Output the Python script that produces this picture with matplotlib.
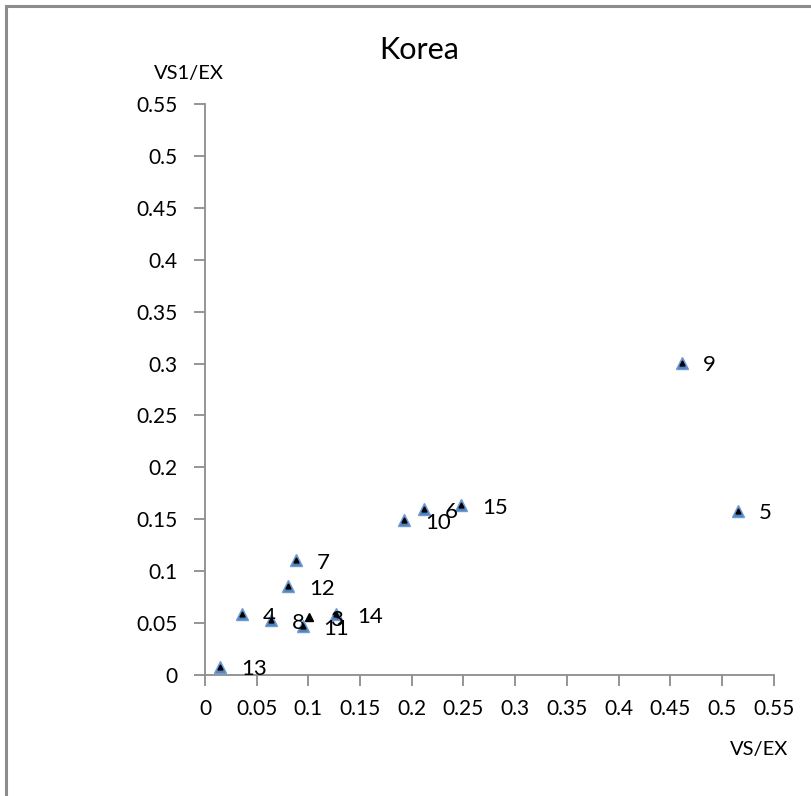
import matplotlib
matplotlib.use("Agg")
import matplotlib.pyplot as plt
from matplotlib.patches import Rectangle

# --- data ------------------------------------------------------------
labels = ["3", "4", "5", "6", "7", "8", "9", "10", "11", "12", "13", "14", "15"]
vs_ex = [0.101, 0.036, 0.515, 0.212, 0.088, 0.0635, 0.4615, 0.1925, 0.0945,
         0.0805, 0.0145, 0.127, 0.248]
vs1_ex = [0.056, 0.0588, 0.1583, 0.1596, 0.1108, 0.053, 0.3009, 0.1493, 0.047,
          0.0857, 0.008, 0.0588, 0.1638]
# point "3" is drawn only as a black marker in the original
plain_points = ["3"]

x_ticks = [0, 0.05, 0.1, 0.15, 0.2, 0.25, 0.3, 0.35, 0.4, 0.45, 0.5, 0.55]
y_ticks = x_ticks
tick_labels = ["0", "0.05", "0.1", "0.15", "0.2", "0.25", "0.3", "0.35",
               "0.4", "0.45", "0.5", "0.55"]

plt.rcParams["font.family"] = ["Lato", "DejaVu Sans"]

fig = plt.figure(figsize=(8.12, 7.96), dpi=100)
# outer chart border (only left/top are visible in the reference)
fig.patches.append(Rectangle((5.5 / 812, -0.1), 1.2, 1 - 5.5 / 796 + 0.1,
                             transform=fig.transFigure, fill=False,
                             edgecolor="#8c8c8c", linewidth=2.2))

ax = fig.add_axes([205 / 812, 1 - 675 / 796, 568.7 / 812, 571 / 796])
ax.set_xlim(0, 0.55)
ax.set_ylim(0, 0.55)
ax.set_xticks(x_ticks)
ax.set_xticklabels(tick_labels)
ax.set_yticks(y_ticks)
ax.set_yticklabels(tick_labels)

for side in ["top", "right"]:
    ax.spines[side].set_visible(False)
for side in ["left", "bottom"]:
    ax.spines[side].set_color("#8c8c8c")
    ax.spines[side].set_linewidth(1.3)
ax.tick_params(axis="both", direction="out", length=8, width=1.3,
               color="#8c8c8c", labelsize=15, labelcolor="black")
ax.tick_params(axis="x", pad=9)
ax.tick_params(axis="y", pad=12)

for name, x, y in zip(labels, vs_ex, vs1_ex):
    if name in plain_points:
        ax.plot(x, y, marker="^", markersize=6, color="black",
                linestyle="none", clip_on=False, zorder=3)
    else:
        ax.plot(x, y, marker="^", markersize=8, color="#4f81bd",
                markeredgecolor="#6f9bd2", linestyle="none", clip_on=False,
                zorder=3)
        ax.plot(x, y, marker="^", markersize=3.5, color="black",
                linestyle="none", clip_on=False, zorder=4)
    ax.annotate(name, (x, y), xytext=(15, -2), textcoords="offset points",
                fontsize=16, va="center", ha="left", zorder=5)

fig.text(419 / 812, 1 - 50 / 796, "Korea", fontsize=22, ha="center",
         va="center")
fig.text(189 / 812, 1 - 74 / 796, "VS1/EX", fontsize=14.5, ha="center",
         va="center")
fig.text(759 / 812, 1 - 749 / 796, "VS/EX", fontsize=14.5, ha="center",
         va="center")

fig.savefig("out.png", dpi=100)
